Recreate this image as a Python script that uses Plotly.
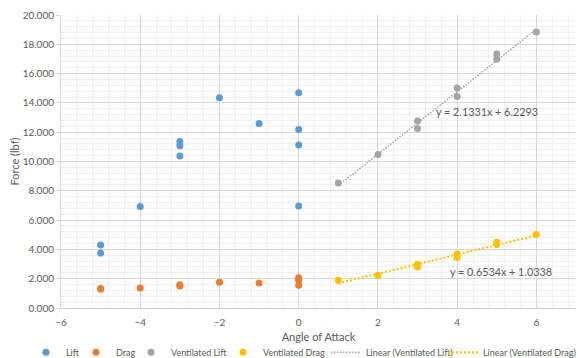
import plotly.graph_objects as go

# ---- data ----
lift_x = [-5, -5, -4, -3, -3, -3, -2, -1, 0, 0, 0, 0]
lift_y = [4.30, 3.75, 6.92, 11.36, 11.08, 10.38, 14.36, 12.59, 14.70, 12.18, 11.13, 6.96]

drag_x = [-5, -5, -4, -3, -3, -2, -1, 0, 0, 0, 0]
drag_y = [1.28, 1.33, 1.37, 1.50, 1.58, 1.75, 1.71, 2.07, 1.97, 1.89, 1.55]

vlift_x = [1, 2, 3, 3, 4, 4, 5, 5, 6]
vlift_y = [8.53, 10.47, 12.77, 12.25, 15.02, 14.43, 17.34, 16.98, 18.84]

vdrag_x = [1, 2, 3, 3, 4, 4, 5, 5, 6]
vdrag_y = [1.89, 2.21, 2.98, 2.80, 3.69, 3.44, 4.48, 4.33, 5.01]

# trendline coefficients as shown on the chart
lift_slope, lift_icpt = 2.1331, 6.2293
drag_slope, drag_icpt = 0.6534, 1.0338
trend_x = [1, 6]

FONT = "Lato, Carlito, Calibri, sans-serif"
TXT = "#595959"

fig = go.Figure()
fig.add_trace(go.Scatter(x=lift_x, y=lift_y, mode="markers", name="Lift",
                         marker=dict(color="#5b9bd5", size=7), legendwidth=5))
fig.add_trace(go.Scatter(x=drag_x, y=drag_y, mode="markers", name="Drag",
                         marker=dict(color="#ed7d31", size=7), legendwidth=10))
fig.add_trace(go.Scatter(x=vlift_x, y=vlift_y, mode="markers", name="Ventilated Lift",
                         marker=dict(color="#a5a5a5", size=7), legendwidth=47))
fig.add_trace(go.Scatter(x=vdrag_x, y=vdrag_y, mode="markers", name="Ventilated Drag",
                         marker=dict(color="#ffc000", size=7), legendwidth=58))
fig.add_trace(go.Scatter(x=trend_x, y=[lift_slope * v + lift_icpt for v in trend_x],
                         mode="lines", name="Linear (Ventilated Lift)",
                         line=dict(color="#a5a5a5", width=1.5, dash="1.5px,1.5px"),
                         legendwidth=72))
fig.add_trace(go.Scatter(x=trend_x, y=[drag_slope * v + drag_icpt for v in trend_x],
                         mode="lines", name="Linear (Ventilated Drag)",
                         line=dict(color="#ffc000", width=2, dash="2px,2px"), legendwidth=88))

fig.add_annotation(x=3.41, y=13.43, xanchor="left", yanchor="middle", showarrow=False,
                   text=f"y = {lift_slope}x + {lift_icpt}",
                   font=dict(family=FONT, size=10.8, color=TXT))
fig.add_annotation(x=3.765, y=2.5, xanchor="left", yanchor="middle", showarrow=False,
                   text=f"y = {drag_slope}x + {drag_icpt}",
                   font=dict(family=FONT, size=10.8, color=TXT))

fig.update_layout(
    width=578, height=358,
    margin=dict(l=61, r=1.5, t=15, b=50, autoexpand=False),
    paper_bgcolor="white", plot_bgcolor="white",
    font=dict(family=FONT, size=10, color=TXT),
    showlegend=True,
    legend=dict(orientation="h", x=-0.068, xanchor="left", y=-0.151, yanchor="middle",
                font=dict(family=FONT, size=9, color=TXT), bgcolor="rgba(0,0,0,0)",
                itemwidth=30, tracegroupgap=0),
    xaxis=dict(range=[-6, 7], dtick=2, tick0=0, showgrid=True, gridcolor="#d9d9d9",
               gridwidth=1, zeroline=False, showline=False, automargin=True,
               minor=dict(dtick=0.4, tick0=0, showgrid=True, gridcolor="#f0f0f0", gridwidth=1),
               ticks="outside", ticklen=5, tickcolor="rgba(0,0,0,0)",
               tickfont=dict(size=10, color=TXT),
               title=dict(text="Angle of Attack", font=dict(size=11, color=TXT), standoff=6)),
    yaxis=dict(range=[0, 20], dtick=2, tick0=0, tickformat=".3f",
               showgrid=True, automargin=False,
               gridcolor="#d9d9d9", gridwidth=1, zeroline=True, zerolinecolor="#c8c8c8",
               zerolinewidth=1, showline=True, linecolor="#d9d9d9", linewidth=1,
               minor=dict(dtick=0.4, tick0=0, showgrid=True, gridcolor="#f0f0f0", gridwidth=1),
               ticks="outside", ticklen=4, tickcolor="#d9d9d9",
               tickfont=dict(size=10, color=TXT),
               title=dict(text="Force (lbf)", font=dict(size=11, color=TXT), standoff=0)),
)

fig.write_html("out.html")
